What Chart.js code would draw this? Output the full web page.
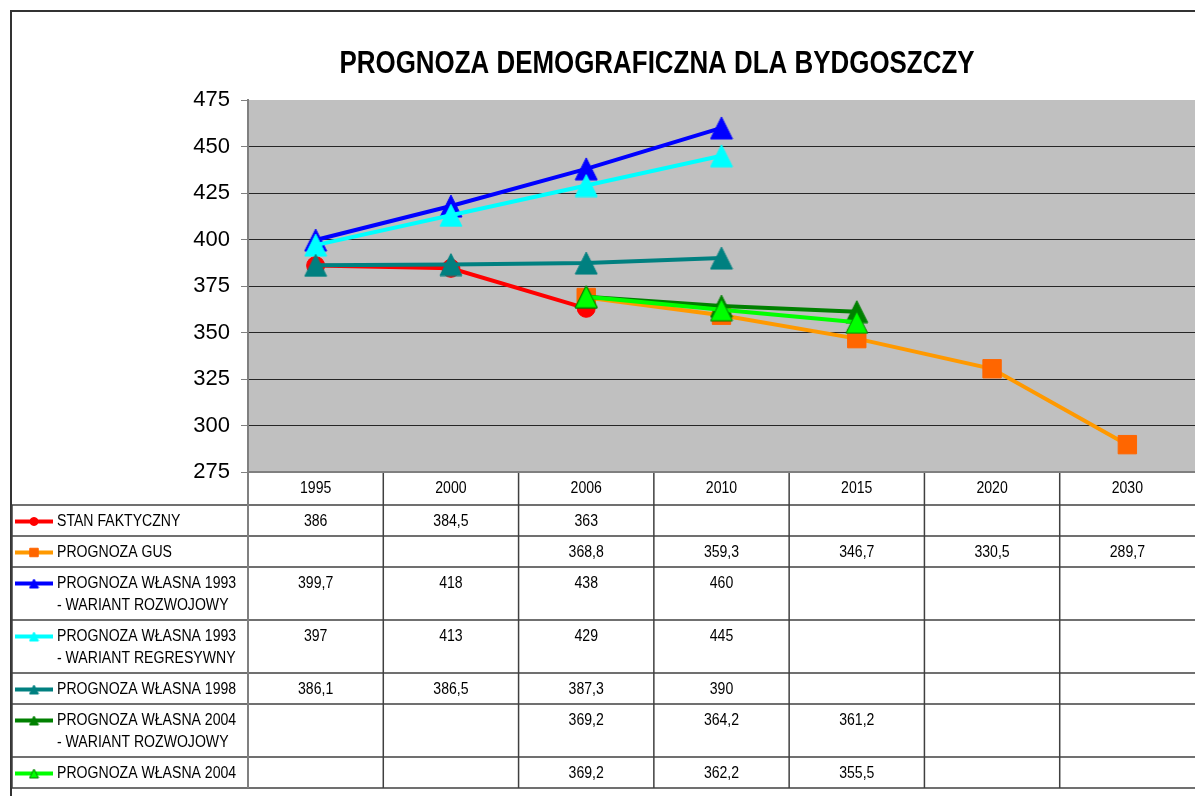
<!DOCTYPE html>
<html>
<head>
<meta charset="utf-8">
<title>Prognoza demograficzna dla Bydgoszczy</title>
<script src="https://cdn.jsdelivr.net/npm/chart.js@4.4.0/dist/chart.umd.min.js"></script>
<style>
  body { margin: 0; background: #fff; }
  canvas { display: block; }
</style>
</head>
<body>
<canvas id="myChart" width="1195" height="796"></canvas>
<script>
// ----- dane -----
const years = ['1995', '2000', '2006', '2010', '2015', '2020', '2030'];
const yTicks = [275, 300, 325, 350, 375, 400, 425, 450, 475];

const stanFaktyczny = [386, 384.5, 363, null, null, null, null];
const prognozaGus = [null, null, 368.8, 359.3, 346.7, 330.5, 289.7];
const wlasna1993Rozw = [399.7, 418, 438, 460, null, null, null];
const wlasna1993Regr = [397, 413, 429, 445, null, null, null];
const wlasna1998 = [386.1, 386.5, 387.3, 390, null, null, null];
const wlasna2004Rozw = [null, null, 369.2, 364.2, 361.2, null, null];
const wlasna2004 = [null, null, 369.2, 362.2, 355.5, null, null];

const seriesNames = [
    ['STAN FAKTYCZNY'],
    ['PROGNOZA GUS'],
    ['PROGNOZA WŁASNA 1993', '- WARIANT ROZWOJOWY'],
    ['PROGNOZA WŁASNA 1993', '- WARIANT REGRESYWNY'],
    ['PROGNOZA WŁASNA 1998'],
    ['PROGNOZA WŁASNA 2004', '- WARIANT ROZWOJOWY'],
    ['PROGNOZA WŁASNA 2004']
];
const seriesValues = [stanFaktyczny, prognozaGus, wlasna1993Rozw, wlasna1993Regr, wlasna1998, wlasna2004Rozw, wlasna2004];
const chartTitle = 'PROGNOZA DEMOGRAFICZNA DLA BYDGOSZCZY';

// ----- wyglad serii -----
const lineColors = ['#FF0000', '#FF9900', '#0000FF', '#00FFFF', '#008080', '#008000', '#00FF00'];
const markerColors = ['#FF0000', '#FF6600', '#0000FF', '#00FFFF', '#008080', '#008000', '#00FF00'];
const markerBorders = ['#FF0000', '#FF6600', '#0000FF', '#00FFFF', '#008080', '#008000', '#008000'];
const markerStyles = ['circle', 'rect', 'triangle', 'triangle', 'triangle', 'triangle', 'triangle'];
const markerSizes = [9, 13, 12, 12, 12, 12, 12];

const fmt = v => (v === null ? '' : String(v).replace('.', ','));

// trojkat jak w excelu (wysrodkowany na punkcie)
function triangleImg(fill, stroke, size) {
    const c = document.createElement('canvas');
    c.width = size;
    c.height = size;
    const g = c.getContext('2d');
    g.fillStyle = fill;
    g.strokeStyle = stroke;
    g.lineWidth = 1;
    g.beginPath();
    g.moveTo(size / 2, 1);
    g.lineTo(size - 1, size - 1);
    g.lineTo(1, size - 1);
    g.closePath();
    g.fill();
    g.stroke();
    return c;
}

function txt(ctx, s, x, y, align, font, sx) {
    ctx.save();
    ctx.font = font;
    ctx.fillStyle = '#000';
    ctx.textBaseline = 'middle';
    ctx.textAlign = align;
    ctx.translate(x, y);
    ctx.scale(sx, 1);
    ctx.fillText(s, 0, 0);
    ctx.restore();
}

function line(ctx, x1, y1, x2, y2, color, w) {
    ctx.save();
    ctx.strokeStyle = color;
    ctx.lineWidth = w;
    ctx.beginPath();
    ctx.moveTo(x1, y1);
    ctx.lineTo(x2, y2);
    ctx.stroke();
    ctx.restore();
}

// tlo wykresu
const plotBg = {
    id: 'plotBg',
    beforeDraw(chart) {
        const a = chart.chartArea;
        const ctx = chart.ctx;
        ctx.save();
        ctx.fillStyle = '#C0C0C0';
        ctx.fillRect(a.left, a.top, a.right - a.left, a.bottom - a.top);
        ctx.restore();
    }
};

// tytul, ramka i tabela danych
const dataTable = {
    id: 'dataTable',
    afterDraw(chart) {
        const ctx = chart.ctx;
        const a = chart.chartArea;
        const xs = chart.scales.x;
        const W = chart.width;
        const colW = (a.right - a.left) / years.length;
        const font = '16px Arial, "Liberation Sans", sans-serif';
        const sx = 0.88;

        // tytul
        ctx.save();
        ctx.font = 'bold 31px Arial, "Liberation Sans", sans-serif';
        const tw = ctx.measureText(chartTitle).width;
        ctx.restore();
        txt(ctx, chartTitle, 657, 64, 'center', 'bold 31px Arial, "Liberation Sans", sans-serif', 635 / tw);

        // ramka
        ctx.save();
        ctx.strokeStyle = '#333';
        ctx.lineWidth = 2;
        ctx.beginPath();
        ctx.moveTo(11, chart.height);
        ctx.lineTo(11, 11);
        ctx.lineTo(W, 11);
        ctx.stroke();
        ctx.restore();

        // wiersze
        const headerH = 33;
        const rowH = seriesNames.map(n => (n.length > 1 ? 53 : 31));
        const rowTops = [];
        let yy = a.bottom + headerH;
        rowH.forEach(h => { rowTops.push(yy); yy += h; });
        const tableBottom = yy;

        // linie poziome
        rowTops.forEach(t => line(ctx, 12, t, W, t, '#404040', 1.5));
        line(ctx, 12, tableBottom, W, tableBottom, '#404040', 1.5);
        // linie pionowe
        for (let i = 1; i < years.length; i++) {
            const x = a.left + i * colW;
            line(ctx, x, a.bottom, x, tableBottom, '#404040', 1.5);
        }
        line(ctx, a.left, a.bottom - 1, a.left, tableBottom, '#808080', 2);
        line(ctx, a.left, a.bottom, W, a.bottom, '#808080', 2);
        line(ctx, 12, rowTops[0], 12, tableBottom, '#404040', 1.5);

        // naglowek lat
        years.forEach((yr, i) => {
            txt(ctx, yr, xs.getPixelForValue(i), a.bottom + 16.5, 'center', font, sx);
        });

        // legenda + wartosci
        seriesNames.forEach((names, s) => {
            const top = rowTops[s];
            const ky = top + 16.5;
            line(ctx, 15, ky, 53, ky, lineColors[s], 4);
            ctx.save();
            ctx.fillStyle = markerColors[s];
            ctx.strokeStyle = markerBorders[s];
            const st = markerStyles[s];
            Chart.helpers.drawPoint(ctx, {
                pointStyle: st === 'triangle' ? triangleImg(markerColors[s], markerBorders[s], 11) : st,
                radius: st === 'circle' ? 4 : 6,
                rotation: 0,
                borderWidth: 1
            }, 34, ky);
            ctx.restore();
            names.forEach((n, k) => txt(ctx, n, 57, top + 16.5 + k * 22, 'left', font, sx));
            seriesValues[s].forEach((v, i) => {
                if (v !== null) txt(ctx, fmt(v), xs.getPixelForValue(i), top + 16.5, 'center', font, sx);
            });
        });
    }
};

Chart.defaults.font.family = 'Arial, "Liberation Sans", sans-serif';
Chart.defaults.color = '#000';

const datasets = seriesValues.map((vals, i) => ({
    label: seriesNames[i].join(' '),
    data: vals,
    borderColor: lineColors[i],
    backgroundColor: markerColors[i],
    borderWidth: 4,
    tension: 0,
    spanGaps: false,
    pointStyle: markerStyles[i] === 'triangle' ? triangleImg(markerColors[i], markerBorders[i], 24) : markerStyles[i],
    pointRadius: markerSizes[i],
    pointBackgroundColor: markerColors[i],
    pointBorderColor: markerBorders[i],
    pointBorderWidth: 1,
    order: seriesValues.length - i,
    clip: false
}));

const ctx = document.getElementById('myChart').getContext('2d');
const chart = new Chart(ctx, {
    type: 'line',
    data: { labels: years, datasets: datasets },
    options: {
        responsive: false,
        animation: false,
        layout: { autoPadding: false, padding: { top: 100, bottom: 324, left: 0, right: 0 } },
        plugins: {
            legend: { display: false },
            title: { display: false },
            tooltip: { enabled: false }
        },
        scales: {
            x: {
                type: 'category',
                offset: true,
                display: false
            },
            y: {
                min: yTicks[0],
                max: yTicks[yTicks.length - 1],
                afterBuildTicks: scale => { scale.ticks = yTicks.map(v => ({ value: v })); },
                afterFit: scale => { scale.width = 248; },
                ticks: {
                    font: { size: 22 },
                    color: '#000',
                    padding: 11
                },
                grid: {
                    color: c => (c.tick && (c.tick.value === 475 || c.tick.value === 275) ? 'rgba(0,0,0,0)' : '#262626'),
                    tickColor: '#808080',
                    tickLength: 7,
                    lineWidth: 1
                },
                border: { color: '#808080', width: 2 }
            }
        }
    },
    plugins: [plotBg, dataTable]
});
</script>
</body>
</html>
